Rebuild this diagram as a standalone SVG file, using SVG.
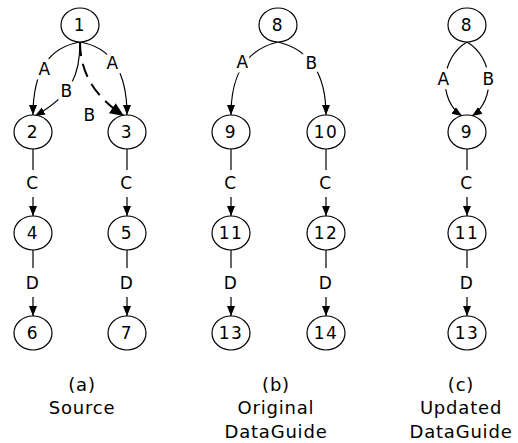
<svg xmlns="http://www.w3.org/2000/svg" width="518" height="443" viewBox="0 0 518 443">
<style>
.n{fill:#fff;stroke:#000;stroke-width:1.2}
.t{font-family:"DejaVu Sans",sans-serif;font-size:17px;letter-spacing:1.5px;text-anchor:middle;fill:#000}
.e{fill:none;stroke:#000;stroke-width:1.2}
.d{fill:none;stroke:#000;stroke-width:2;stroke-dasharray:14,8}
.h{stroke:#fff;stroke-width:9;paint-order:stroke;stroke-linejoin:round}
.cap{font-family:"DejaVu Sans",sans-serif;font-size:18px;letter-spacing:0.8px;text-anchor:middle;fill:#000}
</style>
<defs>
<marker id="ar" markerUnits="userSpaceOnUse" markerWidth="11" markerHeight="9" refX="10" refY="4" orient="auto"><path d="M0,0 L10,4 L0,8 z" fill="#000"/></marker>
<marker id="arb" markerUnits="userSpaceOnUse" markerWidth="15" markerHeight="13" refX="14" refY="6" orient="auto"><path d="M0,0 L14,6 L0,12 z" fill="#000"/></marker>
</defs>
<g id="connectors">
<path class="e" d="M80,42 C50,47 33,70 33,115" marker-end="url(#ar)"/>
<path class="e" d="M80,42 C110,47 127,70 127,115" marker-end="url(#ar)"/>
<path class="e" d="M80,42 C80,75 72,95 35,116" marker-end="url(#ar)"/>
<path class="d" d="M80,42 C80,78 100,100 124,116" marker-end="url(#arb)"/>
<text class="t h" x="45" y="75">A</text>
<text class="t h" x="113" y="69">A</text>
<text class="t h" x="67" y="97">B</text>
<text class="t" x="90" y="121">B</text>
<path class="e" d="M33,149 V170 M33,197 V216" marker-end="url(#ar)"/>
<path class="e" d="M127,149 V170 M127,197 V216" marker-end="url(#ar)"/>
<path class="e" d="M33,250 V268 M33,297 V316" marker-end="url(#ar)"/>
<path class="e" d="M127,250 V268 M127,297 V316" marker-end="url(#ar)"/>
<text class="t" x="33" y="189">C</text>
<text class="t" x="127" y="189">C</text>
<text class="t" x="33" y="289">D</text>
<text class="t" x="127" y="289">D</text>
<path class="e" d="M278,42 C245,50 231,75 231,115" marker-end="url(#ar)"/>
<path class="e" d="M278,42 C311,50 326,75 326,115" marker-end="url(#ar)"/>
<text class="t h" x="243" y="68">A</text>
<text class="t h" x="312" y="69">B</text>
<path class="e" d="M231,149 V170 M231,197 V216" marker-end="url(#ar)"/>
<path class="e" d="M326,149 V170 M326,197 V216" marker-end="url(#ar)"/>
<path class="e" d="M231,250 V268 M231,297 V316" marker-end="url(#ar)"/>
<path class="e" d="M326,250 V268 M326,297 V316" marker-end="url(#ar)"/>
<text class="t" x="231" y="189">C</text>
<text class="t" x="326" y="189">C</text>
<text class="t" x="231" y="289">D</text>
<text class="t" x="326" y="289">D</text>
<path class="e" d="M467,42 C440,58 438,100 462,116" marker-end="url(#ar)"/>
<path class="e" d="M467,42 C494,58 496,100 472,116" marker-end="url(#ar)"/>
<text class="t h" x="444" y="85">A</text>
<text class="t h" x="489" y="85">B</text>
<path class="e" d="M467,149 V170 M467,197 V216" marker-end="url(#ar)"/>
<path class="e" d="M467,250 V268 M467,297 V316" marker-end="url(#ar)"/>
<text class="t" x="467" y="189">C</text>
<text class="t" x="467" y="289">D</text>
</g>
<g id="n1"><ellipse class="n" cx="80" cy="25" rx="19" ry="17"/><text class="t" x="80" y="31">1</text></g>
<g id="n2"><ellipse class="n" cx="33" cy="132" rx="19" ry="17"/><text class="t" x="33" y="138">2</text></g>
<g id="n3"><ellipse class="n" cx="127" cy="132" rx="19" ry="17"/><text class="t" x="127" y="138">3</text></g>
<g id="n4"><ellipse class="n" cx="33" cy="233" rx="19" ry="17"/><text class="t" x="33" y="239">4</text></g>
<g id="n5"><ellipse class="n" cx="127" cy="233" rx="19" ry="17"/><text class="t" x="127" y="239">5</text></g>
<g id="n6"><ellipse class="n" cx="33" cy="333" rx="19" ry="17"/><text class="t" x="33" y="339">6</text></g>
<g id="n7"><ellipse class="n" cx="127" cy="333" rx="19" ry="17"/><text class="t" x="127" y="339">7</text></g>
<g id="n8"><ellipse class="n" cx="278" cy="25" rx="19" ry="17"/><text class="t" x="278" y="31">8</text></g>
<g id="n9"><ellipse class="n" cx="231" cy="132" rx="19" ry="17"/><text class="t" x="231" y="138">9</text></g>
<g id="n10"><ellipse class="n" cx="326" cy="132" rx="19" ry="17"/><text class="t" x="326" y="138">10</text></g>
<g id="n11"><ellipse class="n" cx="231" cy="233" rx="19" ry="17"/><text class="t" x="231" y="239">11</text></g>
<g id="n12"><ellipse class="n" cx="326" cy="233" rx="19" ry="17"/><text class="t" x="326" y="239">12</text></g>
<g id="n13"><ellipse class="n" cx="231" cy="333" rx="19" ry="17"/><text class="t" x="231" y="339">13</text></g>
<g id="n14"><ellipse class="n" cx="326" cy="333" rx="19" ry="17"/><text class="t" x="326" y="339">14</text></g>
<g id="c8"><ellipse class="n" cx="467" cy="25" rx="19" ry="17"/><text class="t" x="467" y="31">8</text></g>
<g id="c9"><ellipse class="n" cx="467" cy="132" rx="19" ry="17"/><text class="t" x="467" y="138">9</text></g>
<g id="c11"><ellipse class="n" cx="467" cy="233" rx="19" ry="17"/><text class="t" x="467" y="239">11</text></g>
<g id="c13"><ellipse class="n" cx="467" cy="333" rx="19" ry="17"/><text class="t" x="467" y="339">13</text></g>
<g id="captions">
<text class="cap" x="82" y="391">(a)</text>
<text class="cap" x="82" y="414">Source</text>
<text class="cap" x="276" y="391">(b)</text>
<text class="cap" x="276" y="414">Original</text>
<text class="cap" x="276" y="438">DataGuide</text>
<text class="cap" x="461" y="391">(c)</text>
<text class="cap" x="461" y="414">Updated</text>
<text class="cap" x="461" y="438">DataGuide</text>
</g>
</svg>
